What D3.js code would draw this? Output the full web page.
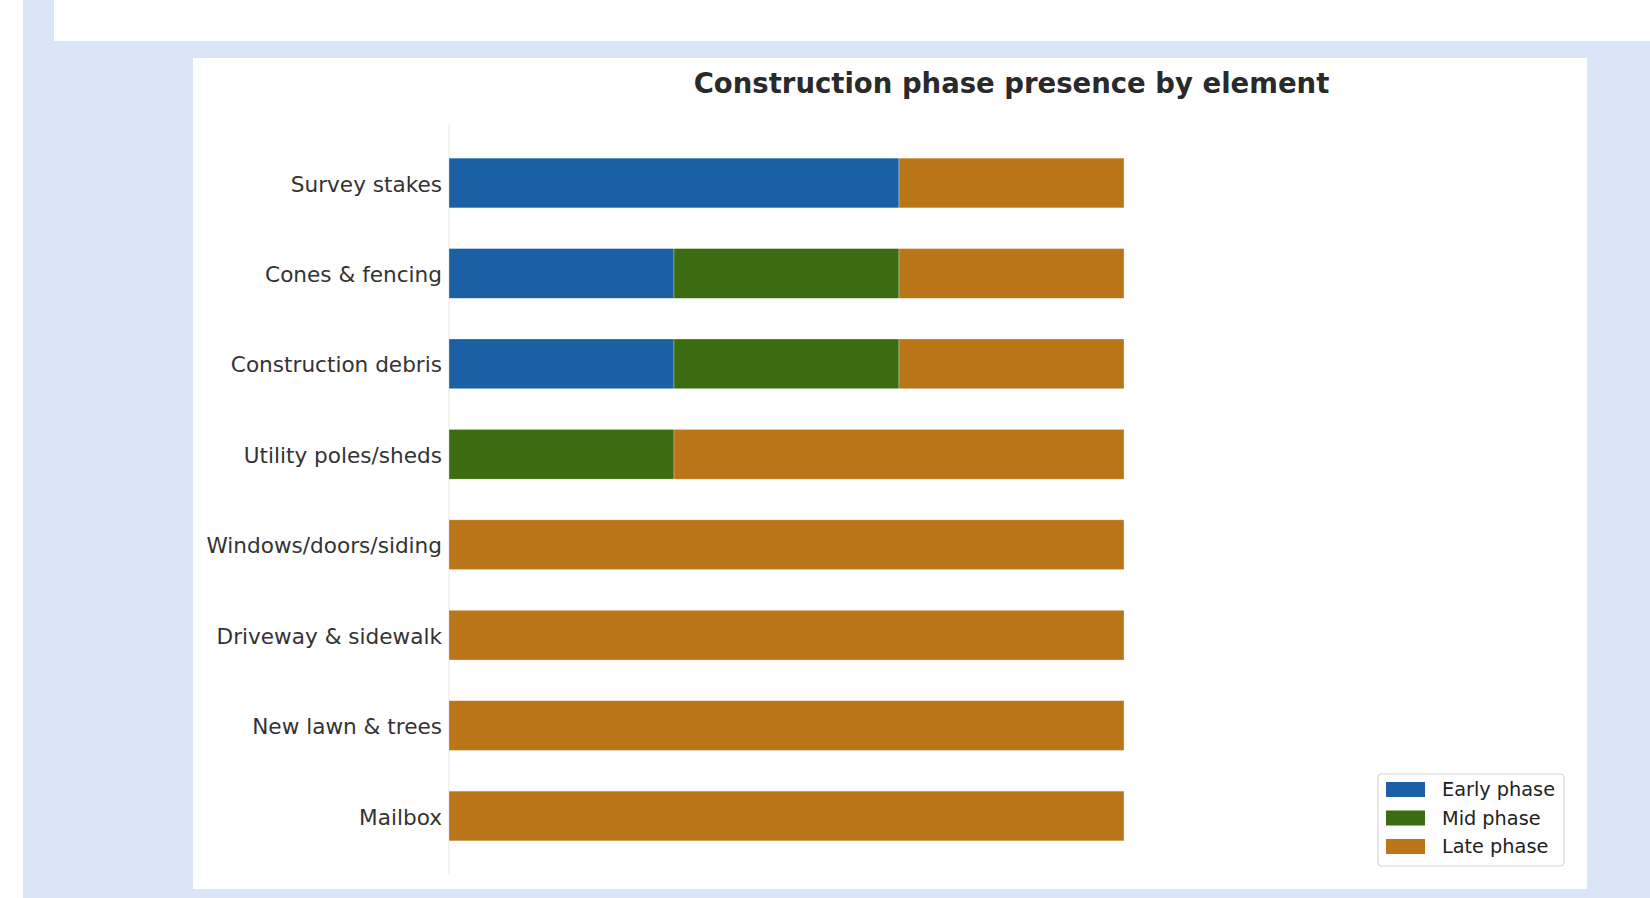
<!DOCTYPE html>
<html>
<head>
<meta charset="utf-8">
<script src="https://cdnjs.cloudflare.com/ajax/libs/d3/7.8.5/d3.min.js"></script>
<style>
  body { margin: 0; background: #fff; width: 1650px; height: 898px; overflow: hidden; position: relative; font-family: "DejaVu Sans", sans-serif; }
  .page { position: absolute; left: 23px; top: 0; width: 1627px; height: 898px; background: #dae6f8; }
  .topbar { position: absolute; left: 54px; top: 0; width: 1596px; height: 41px; background: #fff; }
  .card { position: absolute; left: 193px; top: 58px; width: 1394px; height: 831px; background: #fff; }
  #chart { position: absolute; left: 0; top: 0; }
</style>
</head>
<body>
<div class="page"></div>
<div class="topbar"></div>
<div class="card"></div>
<div id="chart"></div>
<script>
// elements, top to bottom
var categories = ["Survey stakes", "Cones & fencing", "Construction debris", "Utility poles/sheds",
                  "Windows/doors/siding", "Driveway & sidewalk", "New lawn & trees", "Mailbox"];
var phases = ["Early phase", "Mid phase", "Late phase"];
// presence counts per phase
var early = [2, 1, 1, 0, 0, 0, 0, 0];
var mid   = [0, 1, 1, 1, 0, 0, 0, 0];
var late  = [1, 1, 1, 2, 3, 3, 3, 3];
var colors = ["#1b5fa5", "#3b6c12", "#b97518"];

var width = 1650, height = 898;
var plotLeft = 449, plotRight = 1574, plotTop = 124, plotBottom = 875;

var rows = categories.map(function(c, i) {
  return { name: c, "Early phase": early[i], "Mid phase": mid[i], "Late phase": late[i] };
});
var series = d3.stack().keys(phases)(rows);

var svg = d3.select("#chart").append("svg")
  .attr("width", width)
  .attr("height", height);

var x = d3.scaleLinear().domain([0, 5]).range([plotLeft, plotRight]);
var y = d3.scaleBand().domain(categories).range([plotTop, plotBottom])
  .paddingInner(0.45).paddingOuter(0.3775);
var color = d3.scaleOrdinal().domain(phases).range(colors);

// title
svg.append("text")
  .attr("x", (plotLeft + plotRight) / 2)
  .attr("y", 93)
  .attr("text-anchor", "middle")
  .style("font-size", "27.5px")
  .style("font-weight", "bold")
  .style("fill", "#2a2a2a")
  .text("Construction phase presence by element");

// left spine
svg.append("line")
  .attr("x1", plotLeft).attr("x2", plotLeft)
  .attr("y1", plotTop).attr("y2", plotBottom)
  .style("stroke", "#e8e6e2")
  .style("stroke-width", 1);

// bars
svg.append("g").selectAll("g")
  .data(series).enter()
  .append("g")
  .style("fill", d => color(d.key))
  .selectAll("rect")
  .data(d => d.filter(s => s[1] - s[0] > 0)).enter()
  .append("rect")
  .attr("x", d => x(d[0]))
  .attr("y", d => y(d.data.name))
  .attr("width", d => x(d[1]) - x(d[0]))
  .attr("height", y.bandwidth())
  .style("stroke", "#fff")
  .style("stroke-width", 0.6)
  .style("stroke-opacity", 0.5);

// y axis labels
var yAxis = d3.axisLeft(y).tickSize(0).tickPadding(7);
var ya = svg.append("g")
  .attr("transform", `translate(${plotLeft},0)`)
  .call(yAxis);
ya.select(".domain").remove();
ya.selectAll("text")
  .attr("dy", "0.4em")
  .style("font-size", "21.6px")
  .style("font-family", "DejaVu Sans, sans-serif")
  .style("fill", "#333");

// legend
var lg = svg.append("g").attr("transform", "translate(1378,774)");
lg.append("rect")
  .attr("width", 186).attr("height", 92)
  .attr("rx", 4)
  .style("fill", "#fff")
  .style("stroke", "#d6d6d6")
  .style("stroke-width", 1.2);
var item = lg.selectAll("g.item")
  .data(phases).enter()
  .append("g")
  .attr("class", "item")
  .attr("transform", (d, i) => `translate(0, ${8 + i * 28.5})`);
item.append("rect")
  .attr("x", 8).attr("width", 39).attr("height", 15)
  .style("fill", d => color(d));
item.append("text")
  .attr("x", 64).attr("y", 7.5)
  .attr("dy", "0.35em")
  .style("font-size", "19.3px")
  .style("fill", "#222")
  .text(d => d);
</script>
</body>
</html>
